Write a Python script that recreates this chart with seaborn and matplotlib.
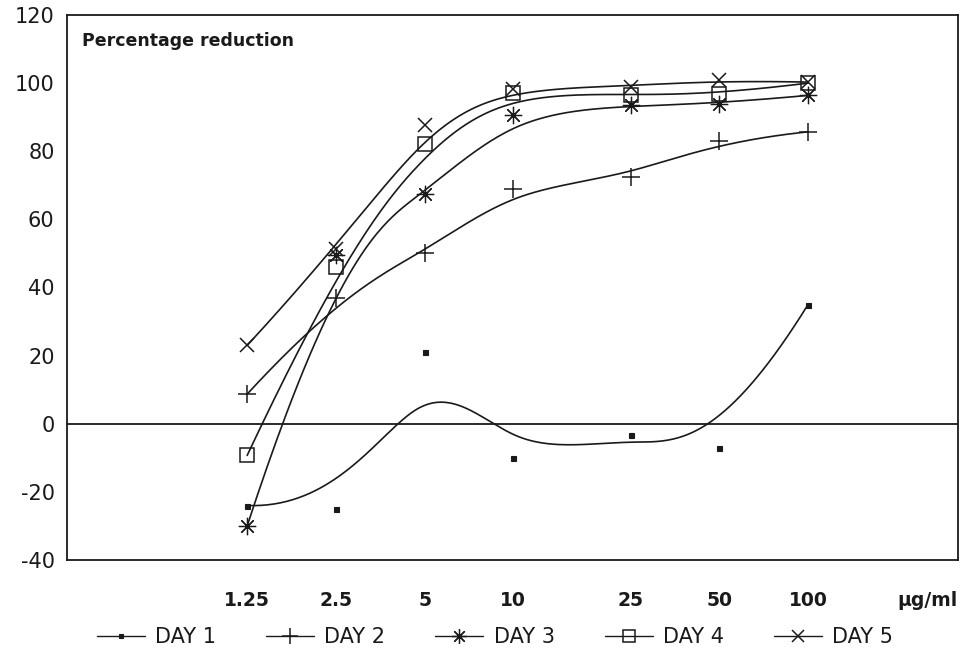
import numpy as np
import pandas as pd
import matplotlib
matplotlib.use("Agg")
import matplotlib.pyplot as plt
from matplotlib.lines import Line2D
from matplotlib.ticker import NullLocator
import seaborn as sns

# Concentrations (µg/ml) and percentage reduction per day
conc = [1.25, 2.5, 5, 10, 25, 50, 100]
conc_labels = ["1.25", "2.5", "5", "10", "25", "50", "100"]
day1 = [-24, -25, 21, -10, -3.4, -7, 35]
day2 = [8.7, 37, 50, 69, 72.3, 83, 85.7]
day3 = [-30, 49.5, 67.4, 90.7, 93.5, 94, 96.4]
day4 = [-9.3, 46, 82, 97, 96.5, 96.8, 100]
day5 = [23, 51.2, 87.7, 98.4, 99, 100.8, 100.3]
series_names = ["DAY 1", "DAY 2", "DAY 3", "DAY 4", "DAY 5"]

sns.set_theme(style="white")
plt.rcParams["font.family"] = ["DejaVu Sans"]
plt.rcParams["axes.unicode_minus"] = False
plt.rcParams["text.color"] = "k"
plt.rcParams["xtick.color"] = "k"
plt.rcParams["ytick.color"] = "k"


def bspline_curve(xs, ys, k=3, n=300):
    """Clamped cubic B-spline that uses the data points as control points
    (in log-x space), the smoothing used by the curve-fit option."""
    lx = np.log10(np.asarray(xs, float))
    y = np.asarray(ys, float)
    m = len(lx)
    knots = np.concatenate([np.zeros(k), np.arange(0, m - k + 1), np.full(k, m - k)]).astype(float)
    t = np.linspace(0, m - k, n)
    nb = len(knots) - 1
    B = np.zeros((n, nb))
    for j in range(nb):
        B[:, j] = (knots[j] <= t) & (t < knots[j + 1])
    last = np.searchsorted(knots, knots[-1]) - 1
    B[t == knots[-1], last] = 1.0
    for d in range(1, k + 1):
        nb2 = len(knots) - d - 1
        B2 = np.zeros((n, nb2))
        for j in range(nb2):
            den1 = knots[j + d] - knots[j]
            den2 = knots[j + d + 1] - knots[j + 1]
            term = np.zeros(n)
            if den1 > 0:
                term += (t - knots[j]) / den1 * B[:, j]
            if den2 > 0:
                term += (knots[j + d + 1] - t) / den2 * B[:, j + 1]
            B2[:, j] = term
        B = B2
    return 10 ** (B @ lx), B @ y


fig = plt.figure(figsize=(9.67, 6.6), dpi=100)
ax = fig.add_axes([0.0693, 0.1515, 0.9214, 0.8258])

styles = [
    dict(marker="s", markersize=3.6, mfc="k", mew=0.8),
    dict(marker="+", markersize=13, mfc="none", mew=1.1),
    dict(marker=(8, 2, 0), markersize=12.5, mfc="none", mew=0.9),
    dict(marker="s", markersize=10, mfc="none", mew=1.1),
    dict(marker="x", markersize=10, mfc="none", mew=1.1),
]
all_days = [day1, day2, day3, day4, day5]

ax.axhline(0, color="k", lw=1.3, zorder=1)

for vals, st in zip(all_days, styles):
    cx, cy = bspline_curve(conc, vals)
    curve = pd.DataFrame({"x": cx, "y": cy})
    sns.lineplot(data=curve, x="x", y="y", sort=False, estimator=None,
                 color="k", lw=1.2, ax=ax, zorder=2)
    pts = pd.DataFrame({"x": conc, "y": vals})
    sns.lineplot(data=pts, x="x", y="y", sort=False, estimator=None,
                 linestyle="none", color="k", mec="k", ax=ax, zorder=3, **st)

ax.set_xscale("log")
ax.set_xlim(0.306, 322.6)
ax.set_ylim(-40, 120)
ax.set_xticks(conc)
ax.set_xticklabels(conc_labels, fontweight="bold", fontsize=13.5)
ax.xaxis.set_minor_locator(NullLocator())
ax.set_yticks(range(-40, 121, 20))
ax.set_xlabel("")
ax.set_ylabel("")
ax.tick_params(axis="x", direction="in", length=8, width=1.1, pad=22, colors="k")
ax.tick_params(axis="y", direction="in", length=8, width=1.1, pad=9,
               labelsize=15, colors="k")
for s in ax.spines.values():
    s.set_color("k")
    s.set_linewidth(1.3)

ax.text(0.0168, 0.968, "Percentage reduction", transform=ax.transAxes,
        ha="left", va="top", fontsize=12.5, fontweight="bold", color="k")
fig.text(958 / 967, 1 - 600 / 660, "µg/ml", ha="right", va="center",
         fontsize=13.5, fontweight="bold", color="k")

handles = [Line2D([], [], color="k", lw=1.0, mec="k", **{**st, "markersize": st["markersize"] * 0.85})
           for st in styles]
fig.legend(handles, series_names, loc="center", bbox_to_anchor=(0.512, 0.035),
           ncol=5, frameon=False, fontsize=15, handlelength=2.3,
           handletextpad=0.5, columnspacing=2.4)

fig.savefig("out.png", dpi=100)
